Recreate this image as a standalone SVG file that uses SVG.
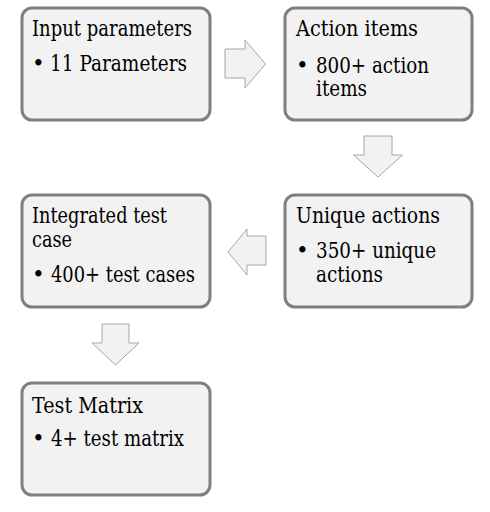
<svg xmlns="http://www.w3.org/2000/svg" width="490" height="512" viewBox="0 0 490 512">
<style>
.box{fill:#f2f2f2;stroke:#7f7f7f;stroke-width:3}
.arr{fill:#f2f2f2;stroke:#a6a6a6;stroke-width:1;stroke-linejoin:miter}
.t{font-family:'DejaVu Serif','Liberation Serif',serif;font-size:21.5px;fill:#000000}
</style>
<rect width="490" height="512" fill="#ffffff"/>
<g id="connectors">
<path class="arr" d="M225,49 H245 V40 L265.5,64 L245,88 V78 H225 Z"/>
<path class="arr" d="M364,136 H392 V155 H402.5 L378,177 L353.5,155 H364 Z"/>
<path class="arr" d="M266,236 H247 V229 L228,252 L247,275 V265 H266 Z"/>
<path class="arr" d="M102,324 H129 V343 H139 L115.5,365 L92,343 H102 Z"/>
</g>
<g id="node-input" class="t">
<rect class="box" x="22" y="8" width="188" height="112" rx="10"/>
<text x="32" y="36" textLength="160" lengthAdjust="spacingAndGlyphs">Input parameters</text>
<text x="32" y="71">•</text>
<text x="50" y="71" textLength="137" lengthAdjust="spacingAndGlyphs">11 Parameters</text>
</g>
<g id="node-action" class="t">
<rect class="box" x="285" y="8" width="187" height="112" rx="10"/>
<text x="296" y="36" textLength="122" lengthAdjust="spacingAndGlyphs">Action items</text>
<text x="296" y="73">•</text>
<text x="316" y="73" textLength="113" lengthAdjust="spacingAndGlyphs">800+ action</text>
<text x="316" y="96" textLength="51" lengthAdjust="spacingAndGlyphs">items</text>
</g>
<g id="node-unique" class="t">
<rect class="box" x="285" y="195" width="187" height="112" rx="10"/>
<text x="296" y="223" textLength="144" lengthAdjust="spacingAndGlyphs">Unique actions</text>
<text x="296" y="258">•</text>
<text x="316" y="258" textLength="120" lengthAdjust="spacingAndGlyphs">350+ unique</text>
<text x="316" y="282" textLength="67" lengthAdjust="spacingAndGlyphs">actions</text>
</g>
<g id="node-integrated" class="t">
<rect class="box" x="22" y="195" width="188" height="112" rx="10"/>
<text x="32" y="223" textLength="135" lengthAdjust="spacingAndGlyphs">Integrated test</text>
<text x="32" y="247" textLength="40" lengthAdjust="spacingAndGlyphs">case</text>
<text x="32" y="282">•</text>
<text x="51" y="282" textLength="144" lengthAdjust="spacingAndGlyphs">400+ test cases</text>
</g>
<g id="node-matrix" class="t">
<rect class="box" x="22" y="383" width="188" height="112" rx="10"/>
<text x="32" y="413" textLength="111" lengthAdjust="spacingAndGlyphs">Test Matrix</text>
<text x="32" y="446">•</text>
<text x="51" y="446" textLength="133" lengthAdjust="spacingAndGlyphs">4+ test matrix</text>
</g>
</svg>
